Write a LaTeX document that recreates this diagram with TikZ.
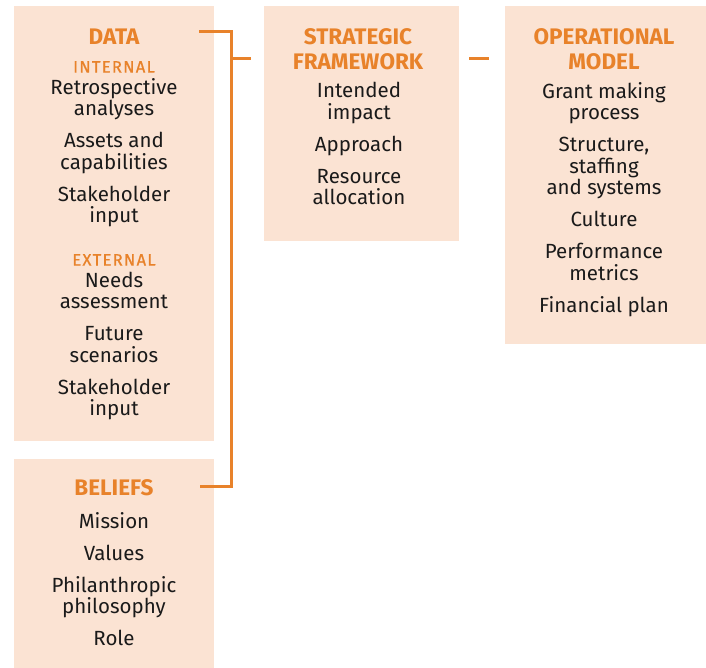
\documentclass[tikz,border=0pt]{standalone}
\usepackage{fontspec}
\setmainfont{Fira Sans}
\definecolor{sforange}{HTML}{E8822A}
\definecolor{sfpeach}{HTML}{FBE3D3}
\definecolor{sftext}{HTML}{1A1A1A}
\usetikzlibrary{positioning}
\newcommand{\subhead}[1]{{\fontsize{16.5pt}{21.5pt}\selectfont\addfontfeature{LetterSpace=8,FakeBold=0.8}\color{sforange}#1}}

\begin{document}
\begin{tikzpicture}[
  x=1pt, y=1pt,
  panel/.style={rectangle, fill=sfpeach, draw=none, anchor=north west, inner sep=0pt},
  headline/.style={anchor=north, inner sep=0pt, align=center, text=sforange,
    font=\fontsize{22.5pt}{25pt}\selectfont\bfseries},
  items/.style={anchor=north, inner sep=0pt, align=center, text=sftext,
    font=\fontsize{20.5pt}{21.5pt}\selectfont},
  link/.style={draw=sforange, line width=3pt}
]
\useasboundingbox (0,0) rectangle (706,-668);

% the four panels
\node[panel, minimum width=200pt, minimum height=435pt] (data) at (14,-6) {};
\node[panel, minimum width=200pt, minimum height=209pt] (beliefs) at (14,-459) {};
\node[panel, minimum width=195pt, minimum height=235pt] (strat) at (264,-6) {};
\node[panel, minimum width=201pt, minimum height=338pt] (oper) at (505,-6) {};

% headings
\node[headline] (datahd) at (114,-29) {DATA};
\node[headline] (beliefshd) at (114,-479) {BELIEFS};
\node[headline] (strathd) at (358,-28) {STRATEGIC\\FRAMEWORK};
\node[headline] (operhd) at (604,-28) {OPERATIONAL\\MODEL};

% panel contents
\node[items] (datalist) at (114,-61) {\subhead{INTERNAL}\\
  Retrospective\\analyses\\[10.5pt]
  Assets and\\capabilities\\[10.5pt]
  Stakeholder\\input\\[21.5pt]
  \subhead{EXTERNAL}\\
  Needs\\assessment\\[10.5pt]
  Future\\scenarios\\[10.5pt]
  Stakeholder\\input};
\node[items] (beliefslist) at (114,-512) {Mission\\[10.5pt]
  Values\\[10.5pt]
  Philanthropic\\philosophy\\[10.5pt]
  Role};
\node[items] (stratlist) at (359,-82) {Intended\\impact\\[10.5pt]
  Approach\\[10.5pt]
  Resource\\allocation};
\node[items] (operlist) at (604,-82) {Grant making\\process\\[10.5pt]
  Structure,\\staffing\\and systems\\[10.5pt]
  Culture\\[10.5pt]
  Performance\\metrics\\[10.5pt]
  Financial plan};

% connectors
\coordinate (datatap) at (199,-32);
\coordinate (beliefstap) at (200,-486);
\coordinate (spinebot) at (231,-486);
\coordinate (spinemid) at (231,-59);
\coordinate (stratin) at (251,-59);
\coordinate (stratout) at (469,-59);
\coordinate (operin) at (489,-59);
\draw[link] (datatap) -| (spinebot) -- (beliefstap);
\draw[link] (spinemid) -- (stratin);
\draw[link] (stratout) -- (operin);
\end{tikzpicture}
\end{document}
